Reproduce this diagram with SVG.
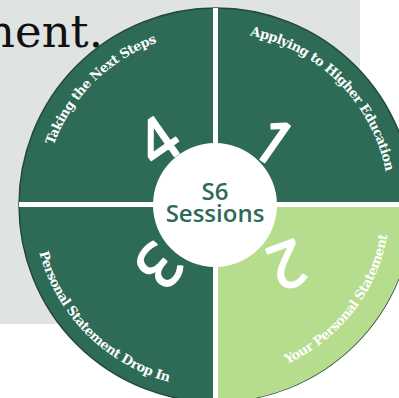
<svg xmlns="http://www.w3.org/2000/svg" width="399" height="398" viewBox="0 0 399 398">
  <defs>
    <clipPath id="disc"><circle cx="216" cy="205" r="197"/></clipPath>
    <path id="arcTL" d="M43,205 A173,173 0 0 1 216,32"/>
    <path id="arcTR" d="M216,32 A173,173 0 0 1 389,205"/>
    <path id="arcBL" d="M33,205 A183,183 0 0 0 216,388"/>
    <path id="arcBR" d="M216,379 A174,174 0 0 0 390,205"/>
  </defs>
  <style>
    .dark { fill: #2e6b57; }
    .light { fill: #b6dc8e; }
    .label { font-family: "DejaVu Serif", "Liberation Serif", serif; font-weight: bold; font-size: 13px; letter-spacing: -0.5px; fill: #ffffff; }
    .digit { font-family: "Open Sans", "DejaVu Sans", sans-serif; font-size: 62px; fill: #ffffff; stroke: #ffffff; stroke-width: 2; stroke-linejoin: round; text-anchor: middle; }
    .center { font-family: "Open Sans", "DejaVu Sans", sans-serif; font-weight: 600; font-size: 24px; fill: #2e6b57; text-anchor: middle; }
    .divider { stroke: #ffffff; stroke-width: 5; }
  </style>

  <rect x="0" y="0" width="360" height="324" fill="#dfe4e3"/>
  <text x="103" y="47" text-anchor="end" font-family="DejaVu Serif, Liberation Serif, serif" font-size="45" fill="#111111">ment.</text>

  <g id="wheel">
    <circle cx="216" cy="205" r="197" class="dark" stroke="#24473a" stroke-width="1.5"/>
  </g>

  <g id="step4">
    <text class="label"><textPath href="#arcTL" startOffset="50%" text-anchor="middle">Taking the Next Steps</textPath></text>
    <text class="digit" transform="translate(158,141) rotate(-35)" y="22">4</text>
  </g>

  <g id="step1">
    <text class="label"><textPath href="#arcTR" startOffset="50%" text-anchor="middle">Applying to Higher Education</textPath></text>
    <text class="digit" transform="translate(274,142) rotate(35)" y="22">1</text>
  </g>

  <g id="step2">
    <rect x="215.5" y="204.5" width="200" height="200" class="light" clip-path="url(#disc)"/>
    <text class="label"><textPath href="#arcBR" startOffset="57.8%" text-anchor="middle">Your Personal Statement</textPath></text>
    <text class="digit" transform="translate(287,265) rotate(160)" y="22">2</text>
  </g>

  <g id="step3">
    <text class="label"><textPath href="#arcBL" startOffset="50%" text-anchor="middle">Personal Statement Drop In</textPath></text>
    <text class="digit" transform="translate(159,266) rotate(130)" y="22">3</text>
  </g>

  <g id="connectors" clip-path="url(#disc)">
    <line x1="215.5" y1="0" x2="215.5" y2="410" class="divider"/>
    <line x1="0" y1="204.5" x2="420" y2="204.5" class="divider"/>
  </g>

  <g id="hub">
    <circle cx="215" cy="205" r="62" fill="#ffffff"/>
    <text class="center" x="215" y="200">S6</text>
    <text class="center" x="215" y="222">Sessions</text>
  </g>
</svg>
